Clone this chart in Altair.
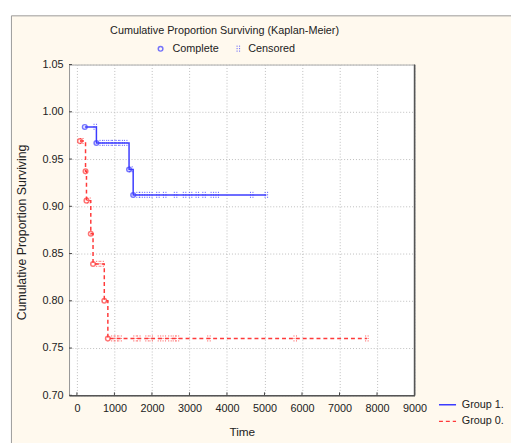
import altair as alt
import pandas as pd

FONT = "Liberation Sans"
BLUE = "#3c3cff"
RED = "#ff3a3a"
CREAM = "#fff9ee"
TXT = "#222222"

groups = ["Group 1.", "Group 0."]

# Group 1 (complete events, last observed time, censored times)
g1_event_time = [210, 520, 1390, 1500]
g1_event_surv = [0.984, 0.967, 0.939, 0.912]
g1_last_time = 5050
g1_cens_time = [490, 650, 760, 880, 980, 1080, 1180, 1300, 1440,
                1630, 1710, 1840, 1970, 2160, 2340, 2630, 2870, 3030,
                3210, 3390, 3610, 3740, 4660, 5050]

# Group 0
g0_event_time = [80, 230, 255, 370, 430, 730, 825]
g0_event_surv = [0.969, 0.937, 0.906, 0.871, 0.839, 0.800, 0.760]
g0_last_time = 7730
g0_cens_time = [130, 320, 560, 670, 960, 1050, 1150, 1550, 1650, 1870,
                1980, 2200, 2330, 2480, 2600, 2680, 3520, 5820, 7730]

x_ticks = [0, 1000, 2000, 3000, 4000, 5000, 6000, 7000, 8000, 9000]
y_ticks = [0.70, 0.75, 0.80, 0.85, 0.90, 0.95, 1.00, 1.05]

line_rows, ev_rows, cen_rows = [], [], []
for g, et, es, lt, ct in [(groups[0], g1_event_time, g1_event_surv, g1_last_time, g1_cens_time),
                          (groups[1], g0_event_time, g0_event_surv, g0_last_time, g0_cens_time)]:
    for t, s in zip(et, es):
        line_rows.append(dict(group=g, time=t, surv=s))
        ev_rows.append(dict(group=g, time=t, surv=s))
    line_rows.append(dict(group=g, time=lt, surv=es[-1]))
    for t in ct:
        prev = [s for te, s in zip(et, es) if te <= t]
        cen_rows.append(dict(group=g, time=t, surv=prev[-1]))

lines_df = pd.DataFrame(line_rows)
ev_df = pd.DataFrame(ev_rows)
cen_df = pd.DataFrame(cen_rows)

W, H = 351, 336
CENS_SHAPE = "M-0.4,-1L-0.4,1M0.4,-1L0.4,1"

xs = alt.Scale(domain=[-210, 9000], nice=False, zero=False)
ys = alt.Scale(domain=[0.70, 1.05], nice=False, zero=False)
cs = alt.Scale(domain=groups, range=[BLUE, RED])
ds = alt.Scale(domain=groups, range=[[1, 0], [4, 3]])

leg = alt.Legend(orient="none", legendX=375, legendY=336, title=None,
                 symbolType="stroke", symbolSize=300, symbolStrokeWidth=1.5,
                 labelFont=FONT, labelFontSize=11, labelColor=TXT,
                 rowPadding=2, labelOffset=5)

xaxis = alt.Axis(values=x_ticks, format="d", grid=True, gridDash=[1, 2],
                 gridColor="#bdbdbd", tickSize=0, labelPadding=7,
                 labelOverlap=False, labelFlush=False,
                 domainColor="#555555", domainWidth=1.5,
                 labelFont=FONT, labelFontSize=11, labelColor=TXT,
                 title="Time", titleFont=FONT, titleFontSize=12,
                 titleFontWeight="normal", titleColor=TXT,
                 titleY=37, titleBaseline="middle")
yaxis = alt.Axis(values=y_ticks, format=".2f", grid=True, gridDash=[1, 2],
                 gridColor="#bdbdbd", tickSize=0, labelPadding=6,
                 labelOverlap=False,
                 domainColor="#999999", domainWidth=1,
                 labelFont=FONT, labelFontSize=11, labelColor=TXT,
                 title="Cumulative Proportion Surviving", titleFont=FONT,
                 titleFontSize=12.5, titleFontWeight="normal", titleColor=TXT,
                 titleX=-48, titleY=170, titleAngle=-90,
                 titleAlign="center", titleBaseline="middle")

X = alt.X("time:Q", scale=xs, axis=xaxis)
Y = alt.Y("surv:Q", scale=ys, axis=yaxis)

lines = alt.Chart(lines_df).mark_line(interpolate="step-after", strokeWidth=1.5).encode(
    x=X, y=Y,
    color=alt.Color("group:N", scale=cs, legend=leg),
    strokeDash=alt.StrokeDash("group:N", scale=ds, legend=leg),
)

events = alt.Chart(ev_df).mark_point(shape="circle", filled=False, size=22, strokeWidth=1.5).encode(
    x=X, y=Y,
    color=alt.Color("group:N", scale=cs, legend=None),
)

cens = alt.Chart(cen_df).mark_point(shape=CENS_SHAPE, size=40, strokeWidth=1,
                                    strokeDash=[1, 1.5], filled=False, opacity=0.9).encode(
    x=X, y=Y,
    color=alt.Color("group:N", scale=cs, legend=None),
)

xt_df = pd.DataFrame({"time": x_ticks})
yt_df = pd.DataFrame({"surv": y_ticks})
xtick = alt.Chart(xt_df).mark_rule(color="#444", strokeWidth=1).encode(
    x=X, y=alt.value(H), y2=alt.value(H - 3))
ytick = alt.Chart(yt_df).mark_rule(color="#444", strokeWidth=1).encode(
    y=Y, x=alt.value(0), x2=alt.value(3))

one = pd.DataFrame({"k": [0]})
frame = alt.Chart(one).mark_rect(fillOpacity=0, stroke="#9a9a9a", strokeWidth=1).encode(
    x=alt.value(-58.5), x2=alt.value(480), y=alt.value(-49.5), y2=alt.value(420))
strip_l = alt.Chart(one).mark_rect(color="white").encode(
    x=alt.value(-70), x2=alt.value(-59), y=alt.value(-70), y2=alt.value(420))
strip_t = alt.Chart(one).mark_rect(color="white").encode(
    x=alt.value(-70), x2=alt.value(480), y=alt.value(-70), y2=alt.value(-50))
right_edge = alt.Chart(one).mark_rule(color="#555555", strokeWidth=1.5).encode(
    x=alt.value(W), y=alt.value(0), y2=alt.value(H))

title_txt = alt.Chart(pd.DataFrame({"t": ["Cumulative Proportion Surviving (Kaplan-Meier)"]})).mark_text(
    font=FONT, fontSize=11, color=TXT, align="center", baseline="middle").encode(
    x=alt.value(158), y=alt.value(-34), text="t:N")
leg_c = alt.Chart(one).mark_point(shape="circle", filled=False, size=22, strokeWidth=1.5, color=BLUE).encode(
    x=alt.value(93), y=alt.value(-16))
leg_c_txt = alt.Chart(pd.DataFrame({"t": ["Complete"]})).mark_text(
    font=FONT, fontSize=11, color=TXT, align="left", baseline="middle").encode(
    x=alt.value(105), y=alt.value(-16), text="t:N")
leg_s = alt.Chart(one).mark_point(shape=CENS_SHAPE, size=40, strokeWidth=1, strokeDash=[1, 1.5],
                                  filled=False, color=BLUE, opacity=0.9).encode(
    x=alt.value(172), y=alt.value(-16))
leg_s_txt = alt.Chart(pd.DataFrame({"t": ["Censored"]})).mark_text(
    font=FONT, fontSize=11, color=TXT, align="left", baseline="middle").encode(
    x=alt.value(182), y=alt.value(-16), text="t:N")

chart = alt.layer(
    strip_l, strip_t, frame, lines, events, cens, xtick, ytick, right_edge,
    title_txt, leg_c, leg_c_txt, leg_s, leg_s_txt
).resolve_scale(color="shared").properties(
    width=W, height=H,
    padding={"left": 62, "top": 54, "right": 98, "bottom": 45},
    autosize=alt.AutoSizeParams(type="none"),
    background=CREAM,
).configure_view(fill="white", stroke="#aaaaaa", strokeWidth=1)

chart.save("out.html", embed_options={"renderer": "svg", "actions": False})
